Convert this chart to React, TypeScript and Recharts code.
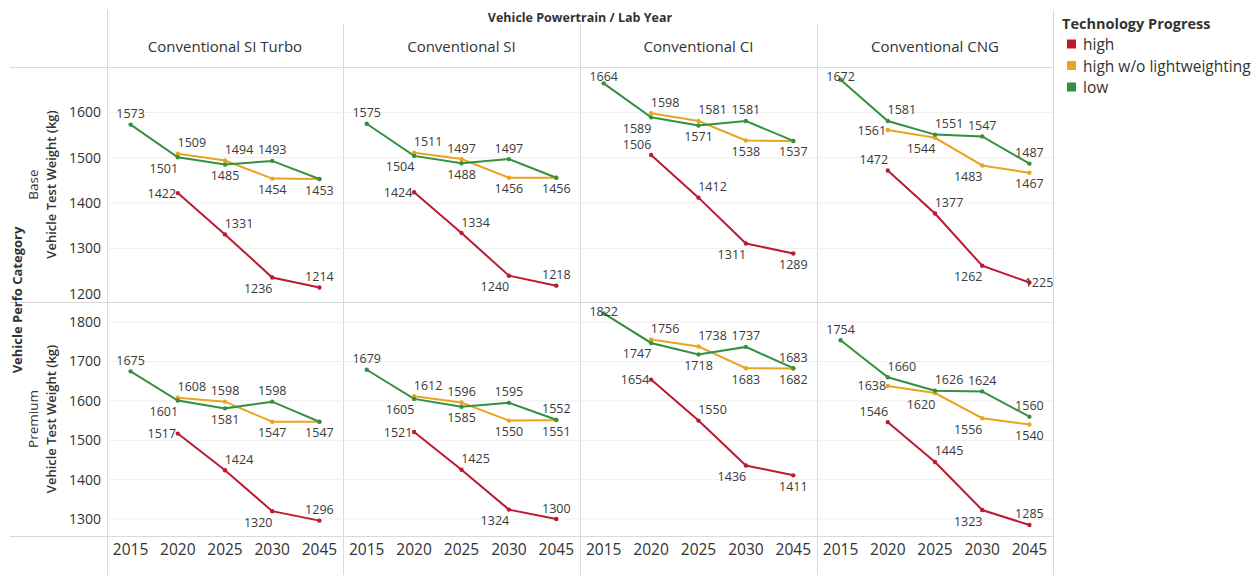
import { LineChart, Line, XAxis, YAxis, CartesianGrid } from "recharts";

const FONT = "'Open Sans', 'Noto Sans', sans-serif";
const TEXT = "#333333";
const RULE = "#d9d9d9";

const YEARS = ["2015", "2020", "2025", "2030", "2045"];
const POWERTRAINS = ["Conventional SI Turbo", "Conventional SI", "Conventional CI", "Conventional CNG"];
const PERF_CATEGORIES = ["Base", "Premium"];
const PROGRESS = ["high", "high w/o lightweighting", "low"];
const SERIES_KEYS = ["high", "noLw", "low"];
const PROGRESS_COLORS = ["#bc1a30", "#eba420", "#32913f"];

// one row per powertrain, one value per lab year (kg)
const BASE_HIGH = [
  [null, 1422, 1331, 1236, 1214],
  [null, 1424, 1334, 1240, 1218],
  [null, 1506, 1412, 1311, 1289],
  [null, 1472, 1377, 1262, 1225],
];
const BASE_NO_LW = [
  [null, 1509, 1494, 1454, 1453],
  [null, 1511, 1497, 1456, 1456],
  [null, 1598, 1581, 1538, 1537],
  [null, 1561, 1544, 1483, 1467],
];
const BASE_LOW = [
  [1573, 1501, 1485, 1493, 1453],
  [1575, 1504, 1488, 1497, 1456],
  [1664, 1589, 1571, 1581, 1537],
  [1672, 1581, 1551, 1547, 1487],
];
const PREMIUM_HIGH = [
  [null, 1517, 1424, 1320, 1296],
  [null, 1521, 1425, 1324, 1300],
  [null, 1654, 1550, 1436, 1411],
  [null, 1546, 1445, 1323, 1285],
];
const PREMIUM_NO_LW = [
  [null, 1608, 1598, 1547, 1547],
  [null, 1612, 1596, 1550, 1551],
  [null, 1756, 1738, 1683, 1682],
  [null, 1638, 1620, 1556, 1540],
];
const PREMIUM_LOW = [
  [1675, 1601, 1581, 1598, 1547],
  [1679, 1605, 1585, 1595, 1552],
  [1822, 1747, 1718, 1737, 1683],
  [1754, 1660, 1626, 1624, 1560],
];

const BASE_TICKS = [1200, 1300, 1400, 1500, 1600];
const PREMIUM_TICKS = [1300, 1400, 1500, 1600, 1700, 1800];

// label spot per mark, per powertrain: [high, no lightweighting, low]; "" = shared label drawn by the other line
const BASE_SPOTS = [
  [["", "L", "TR", "BL", "T"], ["", "TR", "TR", "B", ""], ["T", "BL", "B", "T", "B"]],
  [["", "L", "TR", "BL", "T"], ["", "TR", "T", "B", ""], ["T", "BL", "B", "T", "B"]],
  [["", "TL", "TR", "BL", "B"], ["", "TR", "TR", "B", ""], ["T", "BL", "B", "T", "B"]],
  [["", "TL", "TR", "BL", "R"], ["", "L", "BL", "BL", "B"], ["T", "TR", "TR", "T", "T"]],
];
const PREMIUM_SPOTS = [
  [["", "L", "TR", "BL", "T"], ["", "TR", "T", "B", ""], ["T", "BL", "B", "T", "B"]],
  [["", "L", "TR", "BL", "T"], ["", "TR", "T", "B", "B"], ["T", "BL", "B", "T", "T"]],
  [["", "L", "TR", "BL", "B"], ["", "TR", "TR", "B", "B"], ["T", "BL", "B", "T", "T"]],
  [["", "TL", "TR", "BL", "T"], ["", "L", "BL", "BL", "B"], ["T", "TR", "TR", "T", "T"]],
];

const OFFSETS: Record<string, [number, number]> = {
  T: [0, -11],
  B: [0, 11],
  L: [-16, 0],
  R: [16, 0],
  TR: [14, -11],
  TL: [-14, -11],
  BR: [14, 11],
  BL: [-14, 11],
};

// pane grid
const COL_EDGES = [107, 343, 580, 817, 1053];
const ROW_TOPS = [67, 302];
const ROW_HEIGHTS = [235, 234];
const X_AXIS_H = 39;
const DOMAINS: [number, number][] = [
  [1182, 1700],
  [1257, 1851],
];

const clamp = (v: number, lo: number, hi: number) => Math.min(Math.max(v, lo), hi);

type Box = { x0: number; x1: number; y0: number; y1: number };

const labelDot = (spots: string[], key: string, box: Box) => (p: any) => {
  const { cx, cy, index } = p;
  const value = p.payload ? p.payload[key] : p.value;
  const spot = spots[index];
  if (!spot || value == null || cy == null || cx == null) return <g key={`${key}-l-${index}`} />;
  const [dx, dy] = OFFSETS[spot];
  const x = clamp(cx + dx, box.x0 + 14, box.x1 - 14);
  const y = clamp(cy + dy, box.y0 + 9, box.y1 - 8);
  return (
    <text
      key={`${key}-l-${index}`}
      x={x}
      y={y}
      textAnchor="middle"
      dominantBaseline="central"
      fontSize={12.5}
      fontFamily={FONT}
      fill="#3a3a3a"
    >
      {value}
    </text>
  );
};

function Panel({ row, col }: { row: number; col: number }) {
  const left = COL_EDGES[col];
  const paneW = COL_EDGES[col + 1] - left;
  const first = col === 0;
  const bottom = row === 1;
  const axisW = first ? COL_EDGES[0] : 0;
  const chartW = paneW + axisW;
  const paneH = ROW_HEIGHTS[row];
  const chartH = paneH + (bottom ? X_AXIS_H : 0);
  const series = row === 0 ? [BASE_HIGH, BASE_NO_LW, BASE_LOW] : [PREMIUM_HIGH, PREMIUM_NO_LW, PREMIUM_LOW];
  const spots = (row === 0 ? BASE_SPOTS : PREMIUM_SPOTS)[col];
  const ticks = row === 0 ? BASE_TICKS : PREMIUM_TICKS;
  const data = YEARS.map((year, i) => ({
    year,
    high: series[0][col][i],
    noLw: series[1][col][i],
    low: series[2][col][i],
  }));
  const box = { x0: axisW, x1: chartW, y0: 0, y1: paneH };

  return (
    <div style={{ position: "absolute", left: left - axisW, top: ROW_TOPS[row] }}>
      <LineChart width={chartW} height={chartH} data={data} margin={{ top: 0, right: 0, bottom: 0, left: 0 }}>
        <CartesianGrid vertical={false} stroke="#efefef" horizontalValues={ticks} />
        <XAxis
          dataKey="year"
          hide={!bottom}
          height={X_AXIS_H}
          padding={{ left: paneW / 10, right: paneW / 10 }}
          tickLine={false}
          axisLine={false}
          interval={0}
          tickSize={6}
          tickMargin={2}
          tick={{ fontSize: 15.5, fill: TEXT, fontFamily: FONT }}
        />
        <YAxis
          type="number"
          domain={DOMAINS[row]}
          ticks={ticks}
          allowDataOverflow
          hide={!first}
          width={axisW || 60}
          tickLine={false}
          axisLine={false}
          tickSize={4}
          tickMargin={2}
          tick={{ fontSize: 14, fill: TEXT, fontFamily: FONT }}
        />
        {SERIES_KEYS.map((key, s) => (
          <Line
            key={key}
            dataKey={key}
            stroke={PROGRESS_COLORS[s]}
            strokeWidth={2}
            dot={{ r: 2.2, fill: PROGRESS_COLORS[s], stroke: PROGRESS_COLORS[s], strokeWidth: 0 }}
            activeDot={false}
            isAnimationActive={false}
          />
        ))}
        {SERIES_KEYS.map((key, s) => (
          <Line
            key={`${key}-labels`}
            dataKey={key}
            stroke="none"
            dot={labelDot(spots[s], key, box)}
            activeDot={false}
            legendType="none"
            isAnimationActive={false}
          />
        ))}
      </LineChart>
    </div>
  );
}

function Frame() {
  const rowMid = ROW_TOPS.map((t, i) => t + ROW_HEIGHTS[i] / 2);
  return (
    <svg width={1257} height={575} style={{ position: "absolute", left: 0, top: 0 }} fontFamily={FONT}>
      {/* pane rules */}
      <line x1={107.5} x2={107.5} y1={10} y2={575} stroke={RULE} />
      {COL_EDGES.slice(1, 4).map((x) => (
        <line key={x} x1={x + 0.5} x2={x + 0.5} y1={24} y2={575} stroke={RULE} />
      ))}
      <line x1={1053.5} x2={1053.5} y1={10} y2={575} stroke={RULE} />
      {[67, 302, 536].map((y) => (
        <line key={y} x1={10} x2={1053} y1={y + 0.5} y2={y + 0.5} stroke={RULE} />
      ))}

      {/* column header */}
      <text x={580} y={17} textAnchor="middle" dominantBaseline="central" fontSize={12.5} fontWeight="bold" fill={TEXT}>
        Vehicle Powertrain / Lab Year
      </text>
      {POWERTRAINS.map((name, i) => (
        <text
          key={name}
          x={(COL_EDGES[i] + COL_EDGES[i + 1]) / 2}
          y={46}
          textAnchor="middle"
          dominantBaseline="central"
          fontSize={15}
          fill={TEXT}
        >
          {name}
        </text>
      ))}

      {/* row header */}
      <text
        transform="translate(17,300) rotate(-90)"
        textAnchor="middle"
        dominantBaseline="central"
        fontSize={13}
        fontWeight="bold"
        fill={TEXT}
      >
        Vehicle Perfo Category
      </text>
      {PERF_CATEGORIES.map((cat, i) => (
        <g key={cat}>
          <text
            transform={`translate(33,${rowMid[i]}) rotate(-90)`}
            textAnchor="middle"
            dominantBaseline="central"
            fontSize={13.5}
            fill={TEXT}
          >
            {cat}
          </text>
          <text
            transform={`translate(51,${rowMid[i]}) rotate(-90)`}
            textAnchor="middle"
            dominantBaseline="central"
            fontSize={13}
            fontWeight={600}
            fill={TEXT}
          >
            Vehicle Test Weight (kg)
          </text>
        </g>
      ))}

      {/* legend */}
      <text x={1062} y={23} dominantBaseline="central" fontSize={14.5} fontWeight="bold" fill={TEXT}>
        Technology Progress
      </text>
      {PROGRESS.map((name, i) => (
        <g key={name}>
          <rect x={1067} y={39.5 + i * 21.5} width={9} height={9} fill={PROGRESS_COLORS[i]} />
          <text x={1083} y={44 + i * 21.5} dominantBaseline="central" fontSize={15.5} fill={TEXT}>
            {name}
          </text>
        </g>
      ))}
    </svg>
  );
}

export default function App() {
  return (
    <div
      style={{
        position: "absolute",
        left: 0,
        top: 0,
        width: 1257,
        height: 575,
        background: "#fff",
        overflow: "hidden",
      }}
    >
      <Frame />
      {[0, 1].map((row) => [0, 1, 2, 3].map((col) => <Panel key={`${row}-${col}`} row={row} col={col} />))}
    </div>
  );
}
